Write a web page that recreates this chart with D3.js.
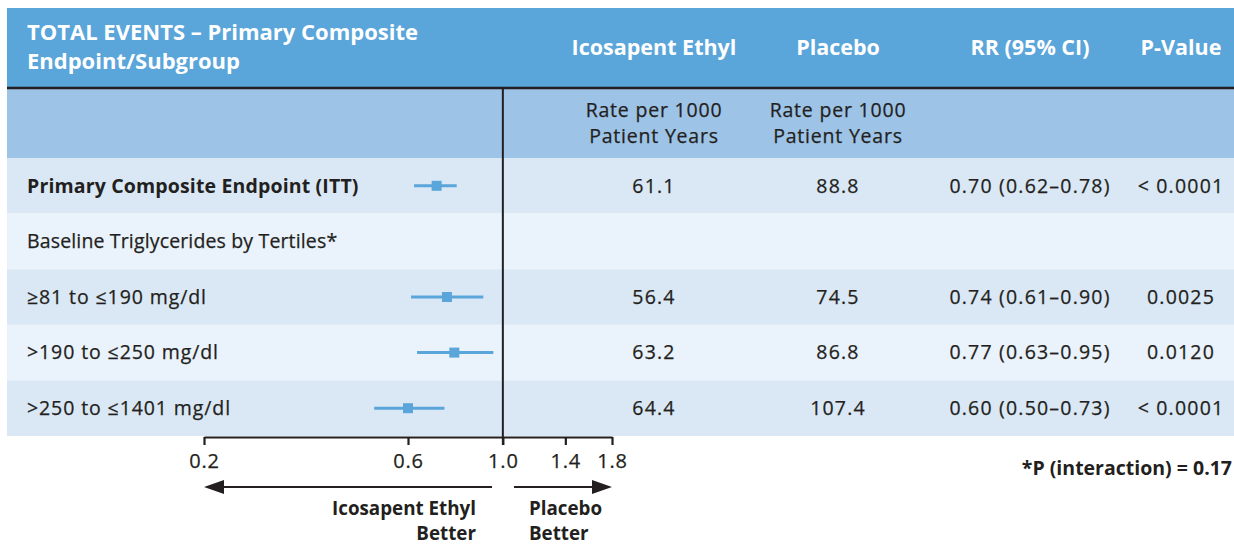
<!DOCTYPE html>
<html><head><meta charset="utf-8">
<script src="https://cdn.jsdelivr.net/npm/d3@7"></script>
<style>
html,body{margin:0;padding:0;background:#fff;}
svg text{font-family:"Open Sans",Lato,sans-serif;}
</style></head>
<body><svg id="c" width="1234" height="546"></svg>
<script>
const labels = ["Primary Composite Endpoint (ITT)","Baseline Triglycerides by Tertiles*","\u226581 to \u2264190 mg/dl",">190 to \u2264250 mg/dl",">250 to \u22641401 mg/dl"];
const boldRow = [true,false,false,false,false];
const rr = [0.70,null,0.74,0.77,0.60];
const lo = [0.62,null,0.61,0.63,0.50];
const hi = [0.78,null,0.90,0.95,0.73];
const ipeRate = ["61.1","","56.4","63.2","64.4"];
const placeboRate = ["88.8","","74.5","86.8","107.4"];
const rrText = ["0.70 (0.62\u20130.78)","","0.74 (0.61\u20130.90)","0.77 (0.63\u20130.95)","0.60 (0.50\u20130.73)"];
const pText = ["< 0.0001","","0.0025","0.0120","< 0.0001"];
const ticks = [0.2,0.6,1.0,1.4,1.8];
const headerCols = ["Icosapent Ethyl","Placebo","RR (95% CI)","P-Value"];

const svg = d3.select("#c");
const ink = "#231f20", blue = "#5aa5da";
const L = 7, R = 1234;
const colX = [654, 838, 1030, 1181];
const FS = 19.5;

// header
svg.append("rect").attr("x",L).attr("y",8).attr("width",R-L).attr("height",80).attr("fill",blue);
svg.append("rect").attr("x",L).attr("y",89).attr("width",R-L).attr("height",69).attr("fill","#9dc3e7");
svg.append("line").attr("x1",L).attr("x2",R).attr("y1",88).attr("y2",88).attr("stroke",ink).attr("stroke-width",2.5);

const ht = svg.append("g").attr("fill","#fff").attr("font-weight","bold").attr("font-size",22);
ht.append("text").attr("x",27).attr("y",40).text("TOTAL EVENTS \u2013 Primary Composite");
ht.append("text").attr("x",27).attr("y",69).text("Endpoint/Subgroup");
headerCols.forEach((t,i)=>ht.append("text").attr("x",colX[i]).attr("y",55).attr("font-size",21.5).attr("text-anchor","middle").text(t));

const st = svg.append("g").attr("fill",ink).attr("font-size",FS).attr("text-anchor","middle")
  .attr("letter-spacing",0.8).attr("stroke",ink).attr("stroke-width",0.25);
[0,1].forEach(i=>{
  st.append("text").attr("x",colX[i]).attr("y",117).text("Rate per 1000");
  st.append("text").attr("x",colX[i]).attr("y",143).text("Patient Years");
});

// rows
const y = d3.scaleBand().domain(d3.range(labels.length)).range([158,436]);
const x = d3.scaleLog().domain([0.2,1.8]).range([204,612]);
const rows = svg.append("g").selectAll("g").data(labels).join("g")
  .attr("transform",(d,i)=>`translate(0,${y(i)})`);
rows.append("rect").attr("x",L).attr("width",R-L).attr("height",y.bandwidth())
  .attr("fill",(d,i)=>i%2===0?"#dae8f5":"#eaf2fb");
const cy = y.bandwidth()/2;
rows.append("text").attr("x",27).attr("y",cy).attr("dy","0.35em").attr("font-size",FS)
  .attr("letter-spacing",(d,i)=>i>=2?0.9:0.15)
  .attr("stroke",(d,i)=>boldRow[i]?"none":ink).attr("stroke-width",0.25)
  .attr("font-weight",(d,i)=>boldRow[i]?"bold":"normal").attr("fill",ink).text(d=>d);
[ipeRate,placeboRate,rrText,pText].forEach((arr,k)=>{
  rows.append("text").attr("x",colX[k]).attr("y",cy).attr("dy","0.35em").attr("text-anchor","middle")
    .attr("font-size",FS).attr("letter-spacing",1.2).attr("stroke",ink).attr("stroke-width",0.25)
    .attr("fill",ink).text((d,i)=>arr[i]);
});
// forest marks
const fr = rows.filter((d,i)=>rr[i]!==null);
fr.append("line").attr("x1",(d)=>x(lo[labels.indexOf(d)])).attr("x2",(d)=>x(hi[labels.indexOf(d)]))
  .attr("y1",cy).attr("y2",cy).attr("stroke",blue).attr("stroke-width",3);
fr.append("rect").attr("x",d=>x(rr[labels.indexOf(d)])-5).attr("y",cy-5).attr("width",10).attr("height",10).attr("fill",blue);

// reference line
svg.append("line").attr("x1",x(1)).attr("x2",x(1)).attr("y1",88).attr("y2",445).attr("stroke",ink).attr("stroke-width",2);

// axis
const ax = svg.append("g").attr("transform","translate(0,437)")
  .call(d3.axisBottom(x).tickValues(ticks).tickFormat(d3.format(".1f")).tickSize(8).tickSizeOuter(0).tickPadding(9));
ax.select(".domain").attr("stroke",ink).attr("stroke-width",2.2);
ax.selectAll(".tick line").attr("stroke",ink).attr("stroke-width",2.2);
ax.selectAll(".tick text").attr("fill",ink).attr("font-size",20).attr("letter-spacing",0.8)
  .attr("stroke",ink).attr("stroke-width",0.25).attr("font-family","'Open Sans',Lato,sans-serif");

// arrows
svg.append("line").attr("x1",492).attr("x2",x(0.2)+10).attr("y1",487).attr("y2",487)
  .attr("stroke",ink).attr("stroke-width",2);
svg.append("line").attr("x1",514).attr("x2",x(1.8)-10).attr("y1",487).attr("y2",487)
  .attr("stroke",ink).attr("stroke-width",2);
svg.append("path").attr("d",`M${x(0.2)},487l20,-7v14z`).attr("fill",ink);
svg.append("path").attr("d",`M${x(1.8)},487l-20,-7v14z`).attr("fill",ink);

const bt = svg.append("g").attr("fill",ink).attr("font-weight","bold").attr("font-size",18.8);
bt.append("text").attr("x",476).attr("y",515).attr("text-anchor","end").text("Icosapent Ethyl");
bt.append("text").attr("x",476).attr("y",540).attr("text-anchor","end").text("Better");
bt.append("text").attr("x",529).attr("y",515).text("Placebo");
bt.append("text").attr("x",529).attr("y",540).text("Better");
bt.append("text").attr("x",1232).attr("y",475).attr("text-anchor","end").attr("font-size",19.5).text("*P (interaction) = 0.17");
</script></body></html>
